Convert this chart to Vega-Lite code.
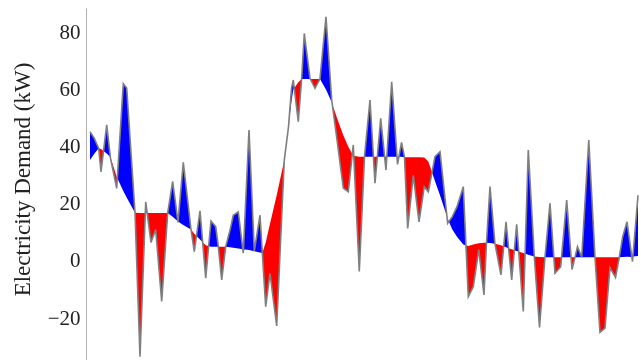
{
  "$schema": "https://vega.github.io/schema/vega-lite/v6.json",
  "width": 555,
  "height": 353,
  "autosize": {"type": "none"},
  "padding": {"left": 86, "top": 8, "right": 0, "bottom": 0},
  "background": "white",
  "config": {"view": {"stroke": null}},
  "data": {"values": [
    {"hour": 0.72, "demand": 45.2, "baseline": 35.3},
    {"hour": 1.50, "demand": 42.9, "baseline": 37.5},
    {"hour": 2.29, "demand": 39.4, "baseline": 39.4},
    {"hour": 2.70, "demand": 31.2, "baseline": 39.2},
    {"hour": 3.73, "demand": 47.6, "baseline": 37.6},
    {"hour": 4.41, "demand": 36.0, "baseline": 36.3},
    {"hour": 5.53, "demand": 25.4, "baseline": 29.5},
    {"hour": 6.72, "demand": 62.0, "baseline": 24.5},
    {"hour": 7.33, "demand": 60.5, "baseline": 22.2},
    {"hour": 8.83, "demand": 16.9, "baseline": 16.9},
    {"hour": 9.73, "demand": -33.5, "baseline": 16.8},
    {"hour": 10.76, "demand": 20.7, "baseline": 16.8},
    {"hour": 11.71, "demand": 6.5, "baseline": 16.8},
    {"hour": 12.56, "demand": 11.0, "baseline": 16.8},
    {"hour": 13.64, "demand": -14.2, "baseline": 16.8},
    {"hour": 14.72, "demand": 16.8, "baseline": 16.8},
    {"hour": 15.62, "demand": 27.8, "baseline": 15.5},
    {"hour": 16.58, "demand": 13.5, "baseline": 13.8},
    {"hour": 17.53, "demand": 34.5, "baseline": 12.6},
    {"hour": 18.92, "demand": 11.0, "baseline": 11.0},
    {"hour": 19.51, "demand": 3.3, "baseline": 9.5},
    {"hour": 20.54, "demand": 17.5, "baseline": 7.5},
    {"hour": 21.57, "demand": -6.0, "baseline": 5.5},
    {"hour": 22.52, "demand": 14.0, "baseline": 5.0},
    {"hour": 23.37, "demand": 12.0, "baseline": 5.0},
    {"hour": 23.84, "demand": 5.0, "baseline": 5.0},
    {"hour": 24.45, "demand": -6.6, "baseline": 5.0},
    {"hour": 25.17, "demand": 5.0, "baseline": 5.0},
    {"hour": 25.95, "demand": 10.8, "baseline": 4.8},
    {"hour": 26.54, "demand": 16.0, "baseline": 4.6},
    {"hour": 27.44, "demand": 17.2, "baseline": 4.4},
    {"hour": 28.34, "demand": 2.7, "baseline": 4.1},
    {"hour": 29.37, "demand": 45.8, "baseline": 3.8},
    {"hour": 30.32, "demand": 3.4, "baseline": 3.4},
    {"hour": 31.35, "demand": 16.0, "baseline": 3.0},
    {"hour": 31.77, "demand": 2.8, "baseline": 2.8},
    {"hour": 32.38, "demand": -16.0, "baseline": 6.5},
    {"hour": 33.15, "demand": -4.3, "baseline": 13.0},
    {"hour": 34.36, "demand": -22.7, "baseline": 23.0},
    {"hour": 35.73, "demand": 35.3, "baseline": 35.3},
    {"hour": 36.49, "demand": 47.0, "baseline": 47.0},
    {"hour": 37.03, "demand": 60.5, "baseline": 56.0},
    {"hour": 37.35, "demand": 63.3, "baseline": 60.0},
    {"hour": 38.25, "demand": 48.7, "baseline": 62.5},
    {"hour": 38.86, "demand": 63.9, "baseline": 63.7},
    {"hour": 39.33, "demand": 79.6, "baseline": 63.7},
    {"hour": 40.36, "demand": 63.9, "baseline": 63.7},
    {"hour": 41.26, "demand": 60.4, "baseline": 63.7},
    {"hour": 42.16, "demand": 63.7, "baseline": 63.7},
    {"hour": 43.24, "demand": 85.4, "baseline": 60.0},
    {"hour": 44.27, "demand": 56.3, "baseline": 55.5},
    {"hour": 45.32, "demand": 41.0, "baseline": 49.5},
    {"hour": 46.36, "demand": 25.5, "baseline": 44.0},
    {"hour": 47.26, "demand": 24.2, "baseline": 40.0},
    {"hour": 48.16, "demand": 40.6, "baseline": 36.8},
    {"hour": 49.24, "demand": -3.7, "baseline": 36.5},
    {"hour": 50.18, "demand": 36.5, "baseline": 36.5},
    {"hour": 51.17, "demand": 56.3, "baseline": 36.5},
    {"hour": 52.07, "demand": 27.2, "baseline": 36.5},
    {"hour": 53.10, "demand": 49.9, "baseline": 36.5},
    {"hour": 54.05, "demand": 31.8, "baseline": 36.5},
    {"hour": 55.08, "demand": 62.7, "baseline": 36.5},
    {"hour": 56.13, "demand": 33.8, "baseline": 36.5},
    {"hour": 56.85, "demand": 41.5, "baseline": 36.5},
    {"hour": 57.39, "demand": 36.3, "baseline": 36.3},
    {"hour": 57.96, "demand": 11.4, "baseline": 36.3},
    {"hour": 58.97, "demand": 30.0, "baseline": 36.3},
    {"hour": 60.00, "demand": 13.7, "baseline": 36.3},
    {"hour": 60.95, "demand": 26.0, "baseline": 36.2},
    {"hour": 61.68, "demand": 24.2, "baseline": 34.8},
    {"hour": 62.88, "demand": 36.5, "baseline": 28.0},
    {"hour": 63.78, "demand": 38.2, "baseline": 23.0},
    {"hour": 65.17, "demand": 13.2, "baseline": 14.8},
    {"hour": 66.00, "demand": 15.5, "baseline": 11.0},
    {"hour": 66.85, "demand": 19.0, "baseline": 8.5},
    {"hour": 67.98, "demand": 26.0, "baseline": 5.8},
    {"hour": 68.88, "demand": -12.5, "baseline": 5.2},
    {"hour": 69.78, "demand": -9.0, "baseline": 5.8},
    {"hour": 70.77, "demand": 4.0, "baseline": 6.2},
    {"hour": 71.71, "demand": -11.9, "baseline": 6.4},
    {"hour": 72.16, "demand": 6.4, "baseline": 6.4},
    {"hour": 72.79, "demand": 26.0, "baseline": 6.3},
    {"hour": 73.69, "demand": 6.0, "baseline": 6.0},
    {"hour": 74.77, "demand": -4.9, "baseline": 5.5},
    {"hour": 75.68, "demand": 13.7, "baseline": 4.8},
    {"hour": 76.70, "demand": -6.6, "baseline": 4.1},
    {"hour": 77.60, "demand": 12.8, "baseline": 3.5},
    {"hour": 78.79, "demand": -17.7, "baseline": 2.8},
    {"hour": 79.69, "demand": 38.8, "baseline": 2.2},
    {"hour": 80.77, "demand": 1.6, "baseline": 1.6},
    {"hour": 81.71, "demand": -23.3, "baseline": 1.4},
    {"hour": 82.70, "demand": 1.3, "baseline": 1.3},
    {"hour": 83.60, "demand": 20.2, "baseline": 1.3},
    {"hour": 84.50, "demand": -4.3, "baseline": 1.3},
    {"hour": 85.53, "demand": -2.0, "baseline": 1.3},
    {"hour": 86.61, "demand": 21.3, "baseline": 1.3},
    {"hour": 87.57, "demand": -3.0, "baseline": 1.3},
    {"hour": 88.56, "demand": 5.0, "baseline": 1.3},
    {"hour": 89.32, "demand": 1.3, "baseline": 1.3},
    {"hour": 90.59, "demand": 42.3, "baseline": 1.3},
    {"hour": 91.71, "demand": 1.3, "baseline": 1.3},
    {"hour": 92.61, "demand": -25.0, "baseline": 1.3},
    {"hour": 93.51, "demand": -23.5, "baseline": 1.3},
    {"hour": 94.41, "demand": -2.3, "baseline": 1.3},
    {"hour": 95.41, "demand": -5.8, "baseline": 1.3},
    {"hour": 96.09, "demand": 1.3, "baseline": 1.3},
    {"hour": 96.70, "demand": 8.5, "baseline": 1.4},
    {"hour": 97.48, "demand": 13.7, "baseline": 1.5},
    {"hour": 98.47, "demand": -0.2, "baseline": 1.6},
    {"hour": 99.46, "demand": 23.0, "baseline": 1.7}
  ]},
  "encoding": {
    "x": {"field": "hour", "type": "quantitative", "scale": {"domain": [0, 100], "nice": false, "zero": false}, "axis": null}
  },
  "layer": [
    {
      "mark": {"type": "area", "color": "white"},
      "encoding": {
        "y": {"datum": 88.5, "type": "quantitative",
          "scale": {"domain": [-35, 88.5], "nice": false, "zero": false},
          "axis": {
            "values": [-20, 0, 20, 40, 60, 80],
            "ticks": false,
            "grid": false,
            "domainColor": "#b0b0b0",
            "domainWidth": 1,
            "labelFont": "Liberation Serif",
            "labelFontSize": 21,
            "labelColor": "#222222",
            "labelPadding": 6,
            "title": "Electricity Demand (kW)",
            "titleFont": "Liberation Serif",
            "titleFontSize": 23,
            "titleFontWeight": "normal",
            "titleColor": "#222222",
            "titleX": -64,
            "titleY": 171,
            "titleAlign": "center",
            "titleBaseline": "middle",
            "titleAngle": -90
          }
        },
        "y2": {"datum": -35}
      }
    },
    {
      "mark": {"type": "area", "color": "black"},
      "encoding": {
        "y": {"field": "demand", "type": "quantitative"},
        "y2": {"field": "baseline"}
      }
    },
    {
      "mark": {"type": "area", "color": "#ff0000", "blend": "lighten"},
      "encoding": {
        "y": {"field": "demand", "type": "quantitative"},
        "y2": {"datum": 88.5}
      }
    },
    {
      "mark": {"type": "area", "color": "#0000ff", "blend": "lighten"},
      "encoding": {
        "y": {"field": "demand", "type": "quantitative"},
        "y2": {"datum": -35}
      }
    },
    {
      "mark": {"type": "line", "color": "#7f7f7f", "strokeWidth": 1.6},
      "encoding": {
        "y": {"field": "demand", "type": "quantitative"}
      }
    }
  ]
}
